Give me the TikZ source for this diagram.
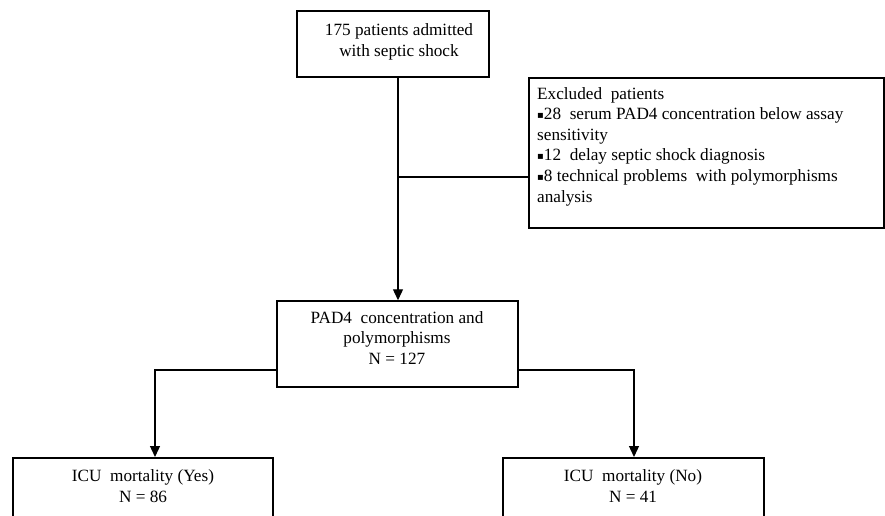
\documentclass[tikz,border=0pt]{standalone}
\usepackage{fontspec}
\setmainfont{Liberation Serif}
\newfontfamily\bulletfont{DejaVu Sans}
\usetikzlibrary{arrows.meta}
\newcommand{\bul}{\raisebox{1.2pt}{\bulletfont\fontsize{10}{10}\selectfont ▪}}
\begin{document}
\begin{tikzpicture}[x=1pt,y=-1pt,
  box/.style={draw, line width=1.5pt, inner sep=0pt},
  txt/.style={align=center, inner sep=0pt, font=\fontsize{17.2}{20.6}\selectfont},
  conn/.style={line width=1.3pt},
  arr/.style={line width=1.3pt, -{Triangle[length=11pt,width=10pt]}}]
\clip (0,0) rectangle (885,516);
\fill[white] (0,0) rectangle (885,516);
% boxes
\node[box, minimum width=192pt, minimum height=66pt] (top) at (393,44) {};
\node[txt] (toptxt) at (399,42) {175 patients admitted\\with septic shock};
\node[box, minimum width=355pt, minimum height=150pt] (excl) at (706.5,153) {};
\node[txt, align=left, anchor=north west] (excltxt) at (537,87)
  {Excluded\ \ patients\\
   \bul 28\ \ serum PAD4 concentration below assay\\
   sensitivity\\
   \bul 12\ \ delay septic shock diagnosis\\
   \bul 8 technical problems\ \ with polymorphisms\\
   analysis};
\node[box, minimum width=241pt, minimum height=86pt] (mid) at (397.5,344) {};
\node[txt] (midtxt) at (397,338) {PAD4\ \ concentration and\\polymorphisms\\N = 127};
\node[box, minimum width=260pt, minimum height=100pt, anchor=north] (yes) at (143,457) {};
\node[txt] (yestxt) at (143,486) {ICU\ \ mortality (Yes)\\N = 86};
\node[box, minimum width=261pt, minimum height=100pt, anchor=north] (no) at (633.5,457) {};
\node[txt] (notxt) at (633,486) {ICU\ \ mortality (No)\\N = 41};
% connectors
\coordinate (trunk) at (398,0);
\coordinate (br) at (398,177);
\coordinate (lj) at (277,370);
\coordinate (rj) at (518,370);
\coordinate (yesin) at (155,457);
\coordinate (noin) at (634,457);
\draw[arr] (top.south -| trunk) -- (mid.north -| trunk);
\draw[conn] (br) -- (br -| excl.west);
\draw[arr] (lj) -| (yesin);
\draw[arr] (rj) -| (noin);
\end{tikzpicture}
\end{document}
